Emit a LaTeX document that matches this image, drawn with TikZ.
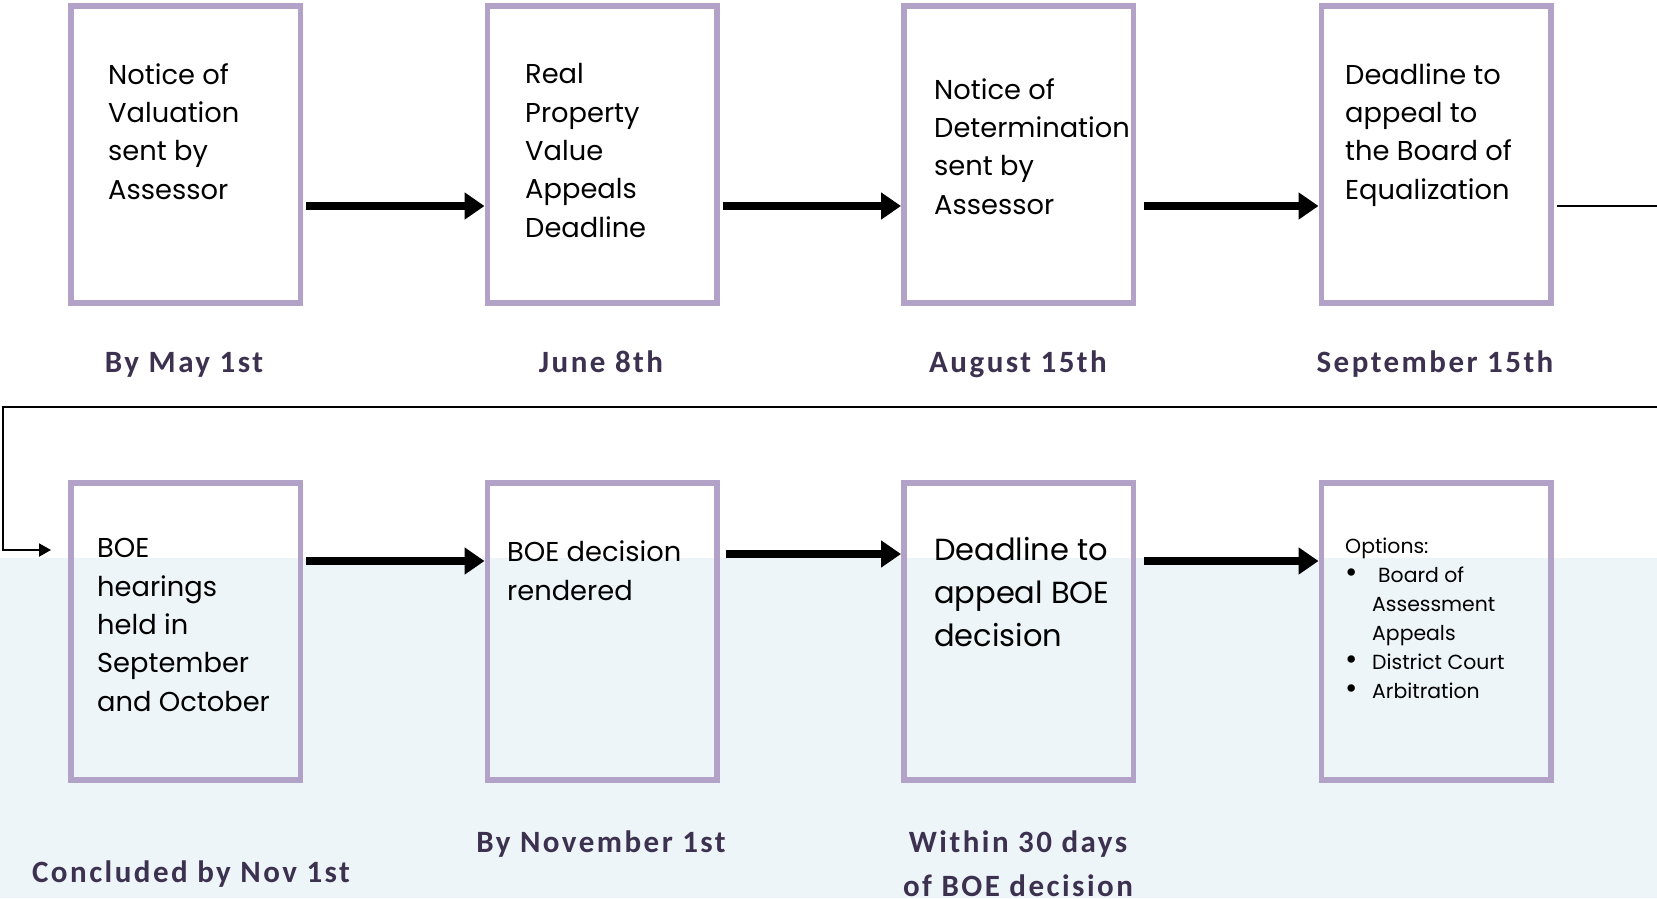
\documentclass[tikz,border=0pt]{standalone}
\usepackage{fontspec}
\setmainfont{Poppins}
\newfontfamily\datefont[LetterSpace=8]{Carlito}
\usetikzlibrary{arrows.meta}
\definecolor{boxline}{HTML}{B3A2C7}
\definecolor{bandblue}{HTML}{EDF5F8}
\definecolor{datecol}{HTML}{3D3150}
\newcommand{\optbullet}{\makebox[27pt][l]{\fontsize{30}{29}\selectfont\textbullet}}
\tikzset{
  stage/.style={draw=boxline, line width=5.5pt, minimum width=229.5pt, minimum height=297pt, inner sep=0pt},
  stagetext/.style={anchor=base west, align=left, inner sep=0pt, font=\fontsize{27.3}{38.3}\selectfont},
  datelabel/.style={anchor=base, text=datecol, align=center, inner sep=0pt, font=\datefont\bfseries\fontsize{31}{44}\selectfont},
  bigarrow/.style={line width=8pt, -{Triangle[length=20pt,width=26pt]}},
  thinarrow/.style={line width=2pt, -{Triangle[length=12pt,width=13pt]}}
}
\begin{document}
\begin{tikzpicture}[x=1pt,y=-1pt]
\useasboundingbox (0,0) rectangle (1657,898);
\fill[white] (0,0) rectangle (1657,898);
\fill[bandblue] (0,558) rectangle (1657,898);
% first row
\node[stage] (n1) at (185.5,154.5) {};
\node[stage] (n2) at (602,154.5) {};
\node[stage] (n3) at (1018.5,154.5) {};
\node[stage] (n4) at (1436,154.5) {};
% second row
\node[stage] (n5) at (185.5,631.5) {};
\node[stage] (n6) at (602,631.5) {};
\node[stage] (n7) at (1018.5,631.5) {};
\node[stage] (n8) at (1436,631.5) {};
% box texts (base = last line)
\node[stagetext] (t1) at (108,199) {Notice of\\Valuation\\sent by\\Assessor};
\node[stagetext] (t2) at (525,237) {Real\\Property\\Value\\Appeals\\Deadline};
\node[stagetext] (t3) at (934,214) {Notice of\\Determination\\sent by\\Assessor};
\node[stagetext] (t4) at (1345,199) {Deadline to\\appeal to\\the Board of\\Equalization};
\node[stagetext] (t5) at (97,711) {BOE\\hearings\\held in\\September\\and October};
\node[stagetext] (t6) at (507,600) {BOE decision\\rendered};
\node[stagetext, font=\fontsize{30.5}{43}\selectfont] (t7) at (934,646) {Deadline to\\appeal BOE\\decision};
\node[stagetext, font=\fontsize{20.4}{29}\selectfont] (t8) at (1345,698)
  {Options:\\\optbullet\hspace{6pt}Board of\\\hspace*{27pt}Assessment\\\hspace*{27pt}Appeals\\\optbullet District Court\\\optbullet Arbitration};
% dates
\node[datelabel] (d1) at (184,372) {By May 1st};
\node[datelabel] (d2) at (601,372) {June 8th};
\node[datelabel] (d3) at (1018,372) {August 15th};
\node[datelabel] (d4) at (1435,372) {September 15th};
\node[datelabel] (d5) at (191,882) {Concluded by Nov 1st};
\node[datelabel] (d6) at (601,852) {By November 1st};
\node[datelabel] (d7) at (1018,896) {Within 30 days\\of BOE decision};
% arrows
\draw[bigarrow] ([xshift=3pt,yshift=-51.5pt]n1.east) -- ([yshift=-51.5pt]n2.west);
\draw[bigarrow] ([xshift=3pt,yshift=-51.5pt]n2.east) -- ([yshift=-51.5pt]n3.west);
\draw[bigarrow] ([xshift=8pt,yshift=-51.5pt]n3.east) -- ([yshift=-51.5pt]n4.west);
\draw[bigarrow] ([xshift=3pt,yshift=70.5pt]n5.east) -- ([yshift=70.5pt]n6.west);
\draw[bigarrow] ([xshift=6pt,yshift=77.5pt]n6.east) -- ([yshift=77.5pt]n7.west);
\draw[bigarrow] ([xshift=8pt,yshift=70.5pt]n7.east) -- ([yshift=70.5pt]n8.west);
\coordinate (into5) at (51,550);
\draw[thinarrow] ([xshift=3pt,yshift=-51.5pt]n4.east) -- (1662,206) -- (1662,407) -- (3,407) -- (3,550) -- (into5);
\end{tikzpicture}
\end{document}
